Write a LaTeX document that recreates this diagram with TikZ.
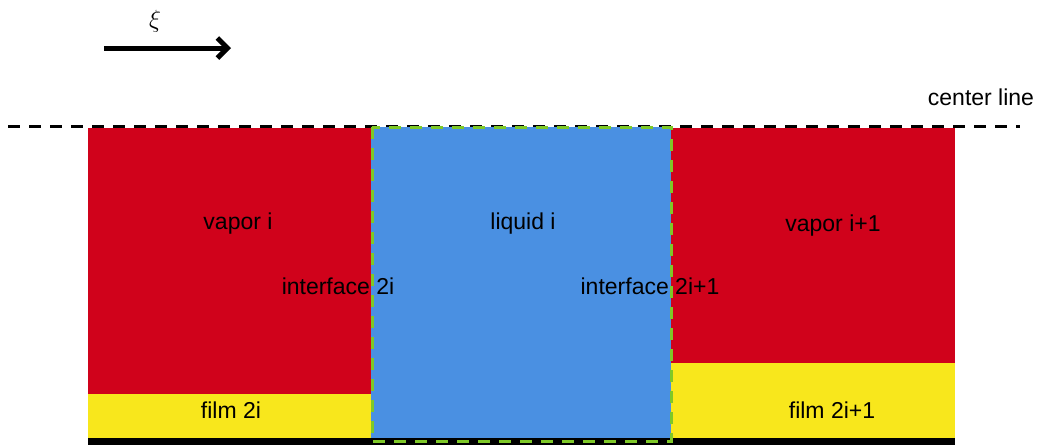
\documentclass[tikz,border=0pt]{standalone}
\usepackage{fontspec}
\setmainfont{Liberation Sans}
\usetikzlibrary{arrows.meta}
\definecolor{vred}{RGB}{208,2,27}
\definecolor{lblue}{RGB}{74,144,226}
\definecolor{fyellow}{RGB}{248,231,28}
\definecolor{igreen}{RGB}{126,200,40}
\begin{document}
\begin{tikzpicture}[x=1pt,y=-1pt,
  lbl/.style={font=\fontsize{23}{27}\selectfont, anchor=base, inner sep=0pt},
  gdash/.style={draw=igreen, line width=3pt, dash pattern=on 12pt off 9pt},
  cline/.style={draw=black, line width=3pt, dash pattern=on 12pt off 9pt}]
\useasboundingbox (0,0) rectangle (1038,445);
% center line
\draw[cline] (8,126) -- (1020,126);
% regions
\fill[vred] (88,128) rectangle (371,394);
\fill[fyellow] (88,394) rectangle (371,438);
\fill[lblue] (371,127) rectangle (671,438);
\fill[vred] (671,128) rectangle (955,363);
\fill[fyellow] (671,363) rectangle (955,438);
\fill[black] (88,438) rectangle (955,445);
% interfaces
\draw[gdash] (372,127) rectangle (671,441);
% direction arrow
\coordinate (a0) at (104,48);
\coordinate (a1) at (231,48);
\draw[line width=5pt, -{Straight Barb[length=10pt,width=20pt,line width=5pt]}] (a0) -- (a1);
\node[font=\fontsize{25}{29}\selectfont, inner sep=0pt] (xi) at (155,21) {$\xi$};
% labels
\node[lbl] (v1) at (238,229) {vapor i};
\node[lbl] (l1) at (523,229) {liquid i};
\node[lbl] (v2) at (833,231) {vapor i+1};
\node[lbl] (i1) at (338,294) {interface 2i};
\node[lbl] (i2) at (650,294) {interface 2i+1};
\node[lbl] (f1) at (231,418) {film 2i};
\node[lbl] (f2) at (832,418) {film 2i+1};
\node[lbl] (cl) at (981,105) {center line};
\end{tikzpicture}
\end{document}
